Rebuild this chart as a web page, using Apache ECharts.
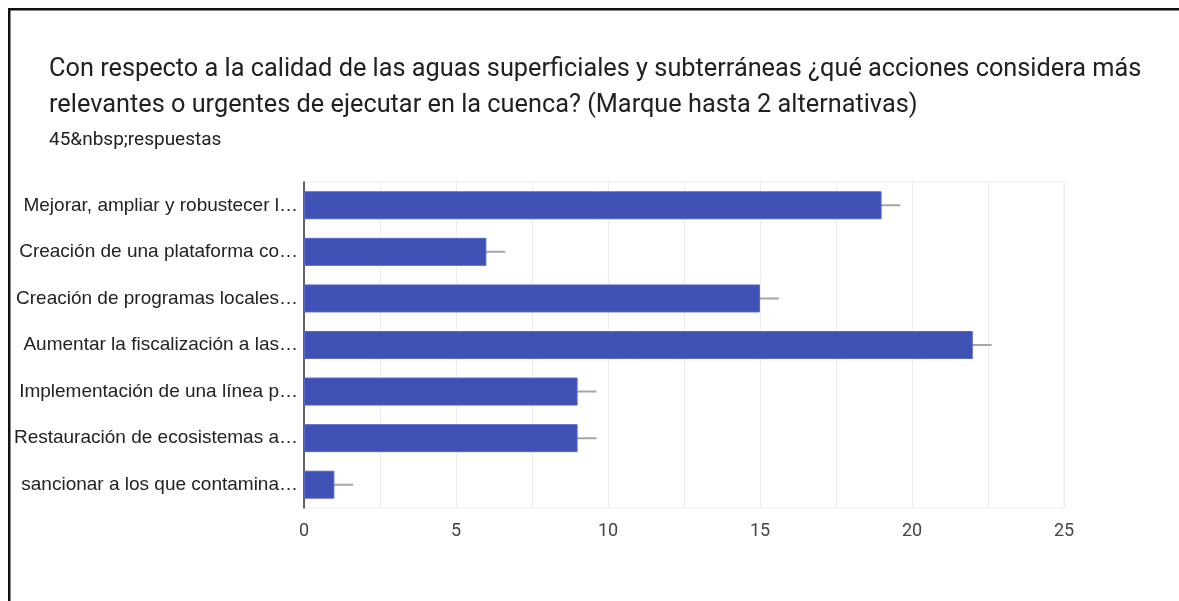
<!DOCTYPE html>
<html>
<head>
<meta charset="utf-8">
<script src="https://cdn.jsdelivr.net/npm/echarts@6/dist/echarts.min.js"></script>
<style>
  html, body { margin: 0; padding: 0; background: #fff; }
  #chart { width: 1179px; height: 601px; }
</style>
</head>
<body>
<div id="chart"></div>
<script>
// Survey answers: one bar per action, counted responses
const categories = [
  'Mejorar, ampliar y robustecer l…',
  'Creación de una plataforma co…',
  'Creación de programas locales…',
  'Aumentar la fiscalización a las…',
  'Implementación de una línea p…',
  'Restauración de ecosistemas a…',
  'sancionar a los que contamina…'
];
const counts = [19, 6, 15, 22, 9, 9, 1];
// whisker length shown to the right of each bar
const whiskers = [0.62, 0.62, 0.62, 0.62, 0.62, 0.62, 0.62];
const xTicks = [0, 5, 10, 15, 20, 25];

const titleText = 'Con respecto a la calidad de las aguas superficiales y subterráneas ¿qué acciones considera más\nrelevantes o urgentes de ejecutar en la cuenca? (Marque hasta 2 alternativas)';
const subtitleText = '45&nbsp;respuestas';

const chart = echarts.init(document.getElementById('chart'), null, { renderer: 'canvas' });

const whiskerData = counts.map((v, i) => [v, i, whiskers[i]]);

chart.setOption({
  backgroundColor: '#fff',
  animation: false,
  title: [
    {
      text: titleText,
      left: 44,
      top: 47,
      textStyle: {
        fontFamily: 'Roboto, "Noto Sans", sans-serif',
        fontSize: 25.3,
        fontWeight: 'normal',
        color: '#202124',
        lineHeight: 36
      }
    },
    {
      text: subtitleText,
      left: 44,
      top: 126,
      textStyle: {
        fontFamily: 'Roboto, "Noto Sans", sans-serif',
        fontSize: 19,
        fontWeight: 'normal',
        color: '#202124'
      }
    }
  ],
  graphic: [
    { type: 'rect', shape: { x: 8, y: 8, width: 1171, height: 2.5 }, style: { fill: '#111' }, z: 100 },
    { type: 'rect', shape: { x: 8, y: 8, width: 2.5, height: 593 }, style: { fill: '#111' }, z: 100 }
  ],
  grid: {
    left: 304,
    right: 115,
    top: 182,
    bottom: 93,
    show: true,
    borderColor: '#ececec',
    borderWidth: 1
  },
  xAxis: {
    type: 'value',
    min: 0,
    max: 25,
    interval: 2.5,
    axisLine: { show: false },
    axisTick: { show: false },
    splitLine: { show: true, lineStyle: { color: '#ececec', width: 1 } },
    axisLabel: {
      margin: 14,
      fontFamily: 'Roboto, Arial, sans-serif',
      fontSize: 18,
      color: '#444',
      formatter: v => (xTicks.indexOf(v) >= 0 ? String(v) : '')
    }
  },
  yAxis: {
    type: 'category',
    data: categories,
    inverse: true,
    axisLine: { show: true, lineStyle: { color: '#333', width: 1.5 } },
    axisTick: { show: false },
    splitLine: { show: false },
    axisLabel: {
      margin: 6,
      fontFamily: '"Liberation Sans", Arial, sans-serif',
      fontSize: 19,
      color: '#222'
    }
  },
  series: [
    {
      type: 'bar',
      data: counts,
      barWidth: 28,
      itemStyle: { color: '#3f51b5', borderColor: '#5868c4', borderWidth: 1 },
      z: 3
    },
    {
      type: 'custom',
      data: whiskerData,
      encode: { x: 0, y: 1 },
      z: 2,
      renderItem: function (params, api) {
        const v = api.value(0);
        const idx = api.value(1);
        const e = api.value(2);
        const p0 = api.coord([v - e, idx]);
        const p1 = api.coord([v + e, idx]);
        return {
          type: 'line',
          shape: { x1: p0[0], y1: p0[1], x2: p1[0], y2: p1[1] },
          style: { stroke: '#a6a6a6', lineWidth: 2 }
        };
      }
    }
  ]
});
</script>
</body>
</html>
